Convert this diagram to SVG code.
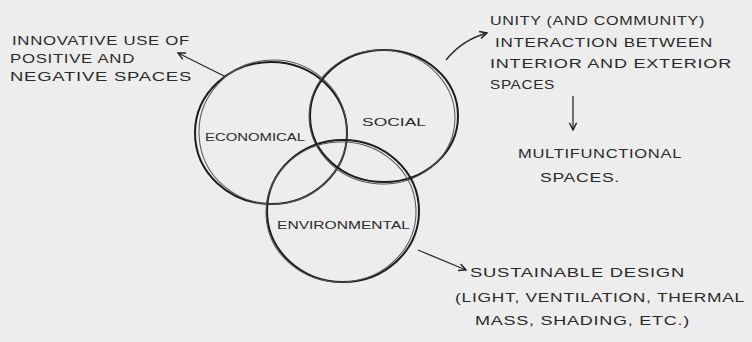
<svg xmlns="http://www.w3.org/2000/svg" width="752" height="342" viewBox="0 0 752 342">
<defs>
<marker id="ah" viewBox="0 0 10 10" refX="9" refY="5" markerWidth="9" markerHeight="9" markerUnits="userSpaceOnUse" orient="auto">
<path d="M1,1 L9,5 L1,9" fill="none" stroke="#222" stroke-width="1.6"/>
</marker>
<style>
.bg{fill:#ededed}
.c{fill:none;stroke:#1c1c1c;stroke-width:2}
.c2{fill:none;stroke:#555;stroke-width:1}
.t{font-family:"Liberation Sans",Arial,sans-serif;font-size:12px;fill:#2a2a2a;letter-spacing:0.5px}
.lbl{font-family:"Liberation Sans",Arial,sans-serif;font-size:11px;fill:#2a2a2a}
.cn{fill:none;stroke:#2a2a2a;stroke-width:1.3;marker-end:url(#ah)}
</style>
</defs>
<rect class="bg" width="752" height="342"/>
<g id="economical">
<ellipse class="c" cx="271" cy="133" rx="76" ry="71"/>
<ellipse class="c2" cx="273" cy="132" rx="74" ry="72" transform="rotate(-4 273 132)"/>
<text class="lbl" x="205" y="141" textLength="100" lengthAdjust="spacingAndGlyphs">ECONOMICAL</text>
</g>
<g id="social">
<ellipse class="c" cx="384" cy="116" rx="74" ry="66"/>
<ellipse class="c2" cx="382" cy="117" rx="73" ry="67" transform="rotate(5 382 117)"/>
<text class="lbl" x="362" y="126" textLength="64" lengthAdjust="spacingAndGlyphs">SOCIAL</text>
</g>
<g id="environmental">
<ellipse class="c" cx="343" cy="211" rx="76" ry="71"/>
<ellipse class="c2" cx="341" cy="212" rx="75" ry="70" transform="rotate(-3 341 212)"/>
<text class="lbl" x="277" y="229" textLength="133" lengthAdjust="spacingAndGlyphs">ENVIRONMENTAL</text>
</g>
<g id="connectors">
<path class="cn" d="M224,76 L178,53"/>
<path class="cn" d="M446,60 Q462,40 487,33"/>
<path class="cn" d="M573,96 L573,130"/>
<path class="cn" d="M418,250 L466,270"/>
</g>
<g id="note-positive-negative">
<text class="t" x="12" y="45" textLength="178" lengthAdjust="spacingAndGlyphs">INNOVATIVE USE OF</text>
<text class="t" x="10" y="63" textLength="125" lengthAdjust="spacingAndGlyphs">POSITIVE AND</text>
<text class="t" x="10" y="81" textLength="182" lengthAdjust="spacingAndGlyphs">NEGATIVE SPACES</text>
</g>
<g id="note-unity">
<text class="t" x="490" y="25" textLength="215" lengthAdjust="spacingAndGlyphs">UNITY (AND COMMUNITY)</text>
<text class="t" x="495" y="47" textLength="218" lengthAdjust="spacingAndGlyphs">INTERACTION BETWEEN</text>
<text class="t" x="490" y="68" textLength="242" lengthAdjust="spacingAndGlyphs">INTERIOR AND EXTERIOR</text>
<text class="t" x="490" y="89" textLength="65" lengthAdjust="spacingAndGlyphs">SPACES</text>
</g>
<g id="note-multifunctional">
<text class="t" x="518" y="158" textLength="164" lengthAdjust="spacingAndGlyphs">MULTIFUNCTIONAL</text>
<text class="t" x="540" y="182" textLength="80" lengthAdjust="spacingAndGlyphs">SPACES.</text>
</g>
<g id="note-sustainable">
<text class="t" x="470" y="277" textLength="215" lengthAdjust="spacingAndGlyphs">SUSTAINABLE DESIGN</text>
<text class="t" x="455" y="302" textLength="290" lengthAdjust="spacingAndGlyphs">(LIGHT, VENTILATION, THERMAL</text>
<text class="t" x="475" y="325" textLength="215" lengthAdjust="spacingAndGlyphs">MASS, SHADING, ETC.)</text>
</g>
</svg>
